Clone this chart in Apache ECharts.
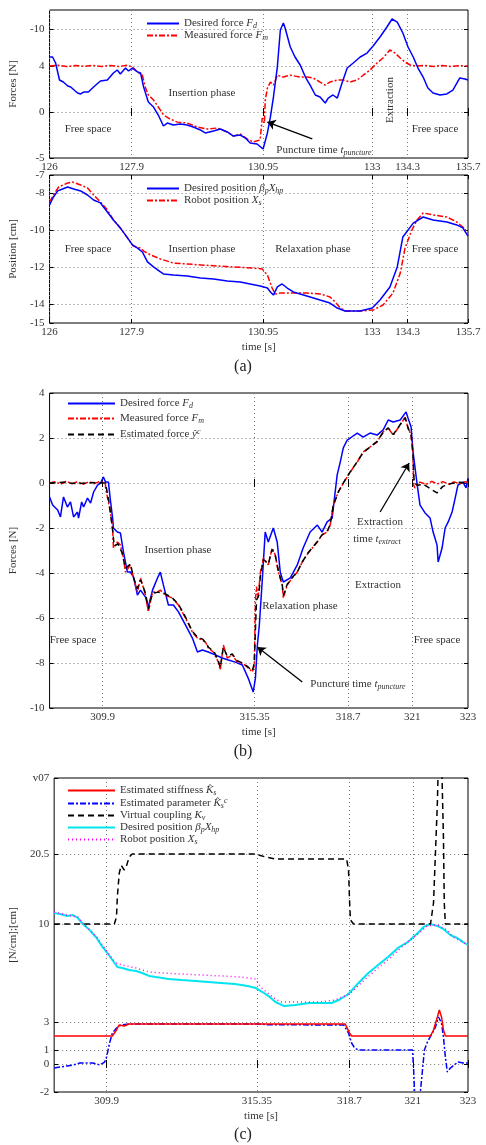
<!DOCTYPE html>
<html>
<head>
<meta charset="utf-8">
<script src="https://cdn.jsdelivr.net/npm/echarts@6/dist/echarts.min.js"></script>
<style>
html,body{margin:0;padding:0;background:#fff;}
#chart{width:486px;height:1145px;}
</style>
</head>
<body>
<div id="chart"></div>
<script>
// (a) top: forces, time axis 126..135.7 (tick "133" sits where the plot puts it)
var xTicksA = [126, 127.9, 130.95, 133.48, 134.3, 135.7];
var xLabelsA = ['126', '127.9', '130.95', '133', '134.3', '135.7'];
var yTicksA1 = [-5, 0, 5, 9];
var yLabelsA1 = ['-5', '0', '4', '-10'];
var yTicksA2 = [-15, -14, -12, -10, -8, -7];
var yLabelsA2 = ['-15', '-14', '-12', '-10', '-8', '-7'];

var desiredForceA = [[126.00,5.98],[126.07,5.98],[126.14,5.33],[126.23,3.48],[126.32,3.26],[126.42,2.83],[126.49,2.72],[126.65,2.07],[126.72,1.96],[126.79,2.17],[126.90,2.17],[127.02,2.72],[127.18,3.37],[127.34,3.48],[127.48,4.24],[127.57,4.57],[127.64,4.13],[127.76,4.78],[127.83,4.46],[127.92,4.78],[128.04,4.35],[128.11,4.24],[128.18,2.72],[128.29,1.09],[128.41,0.54],[128.52,-0.33],[128.64,-1.52],[128.73,-1.20],[128.87,-1.41],[129.03,-1.30],[129.19,-1.41],[129.33,-1.63],[129.50,-1.96],[129.61,-2.28],[129.80,-2.07],[129.96,-1.85],[130.12,-2.17],[130.26,-2.61],[130.42,-2.50],[130.54,-2.83],[130.65,-3.37],[130.81,-3.48],[130.95,-4.02],[131.05,-2.28],[131.12,-0.54],[131.19,1.63],[131.28,4.89],[131.35,8.91],[131.42,9.67],[131.46,9.13],[131.58,7.07],[131.69,5.98],[131.81,5.11],[131.93,3.80],[132.04,2.93],[132.16,1.85],[132.27,1.63],[132.39,0.98],[132.46,1.52],[132.57,1.85],[132.67,1.52],[132.78,3.15],[132.90,4.78],[133.04,5.33],[133.20,5.98],[133.36,6.41],[133.50,7.17],[133.66,8.15],[133.82,9.24],[133.94,10.11],[134.06,9.78],[134.19,8.59],[134.31,7.07],[134.43,5.98],[134.54,4.78],[134.66,3.80],[134.77,2.61],[134.89,2.07],[135.05,1.85],[135.21,1.96],[135.35,2.39],[135.51,3.70],[135.63,3.59],[135.70,3.48]];
var measuredForceA = [[126.00,5.0],[126.2,5.08],[126.4,4.95],[126.6,5.06],[126.8,4.97],[127.0,5.07],[127.2,4.96],[127.4,5.05],[127.6,4.95],[127.8,5.08],[127.92,4.9],[128.04,4.35],[128.15,4.0],[128.22,2.7],[128.29,1.85],[128.41,1.3],[128.57,0.2],[128.64,-0.3],[128.75,-0.65],[128.96,-1.1],[129.19,-1.2],[129.43,-1.63],[129.66,-1.85],[129.89,-1.74],[130.12,-2.17],[130.26,-2.6],[130.42,-2.4],[130.58,-2.93],[130.72,-3.26],[130.88,-3.04],[130.93,-0.65],[130.98,-1.2],[131.00,1.3],[131.05,2.6],[131.12,3.26],[131.19,2.93],[131.28,4.0],[131.42,3.8],[131.58,4.0],[131.81,3.8],[131.97,3.8],[132.11,3.7],[132.27,3.26],[132.39,2.93],[132.50,3.26],[132.67,3.48],[132.81,3.48],[132.97,3.26],[133.13,3.48],[133.27,4.0],[133.43,4.57],[133.59,5.33],[133.73,5.87],[133.89,6.74],[134.01,6.41],[134.13,5.87],[134.24,5.43],[134.36,5.11],[134.52,5.0],[134.7,5.06],[134.9,4.96],[135.1,5.05],[135.3,4.95],[135.5,5.04],[135.7,5.0]];

var desiredPosA = [[126.00,-8.62],[126.09,-8.19],[126.19,-7.86],[126.30,-7.76],[126.42,-7.65],[126.56,-7.76],[126.72,-7.86],[126.88,-8.08],[127.02,-8.35],[127.18,-8.51],[127.34,-9.0],[127.48,-9.43],[127.64,-9.86],[127.81,-10.41],[127.92,-10.78],[128.04,-10.95],[128.15,-11.16],[128.27,-11.7],[128.41,-11.97],[128.57,-12.24],[128.64,-12.35],[128.87,-12.41],[129.19,-12.46],[129.50,-12.57],[129.80,-12.62],[130.12,-12.73],[130.42,-12.78],[130.65,-12.89],[130.88,-13.0],[131.05,-13.11],[131.12,-13.32],[131.19,-13.49],[131.28,-13.05],[131.39,-12.89],[131.51,-13.11],[131.65,-13.32],[131.81,-13.43],[132.04,-13.59],[132.27,-13.76],[132.50,-13.92],[132.67,-14.19],[132.85,-14.35],[133.20,-14.35],[133.48,-14.19],[133.66,-13.76],[133.89,-13.05],[134.06,-11.97],[134.19,-10.35],[134.43,-9.6],[134.66,-9.27],[134.89,-9.43],[135.21,-9.54],[135.44,-9.7],[135.58,-9.86],[135.70,-10.3]];
var robotPosA = [[126.00,-8.46],[126.09,-8.08],[126.21,-7.65],[126.42,-7.43],[126.53,-7.38],[126.72,-7.54],[126.88,-7.7],[127.02,-8.08],[127.18,-8.46],[127.34,-8.89],[127.48,-9.43],[127.64,-9.86],[127.81,-10.41],[127.94,-10.84],[128.11,-10.95],[128.18,-11.11],[128.34,-11.32],[128.57,-11.54],[128.87,-11.76],[129.19,-11.81],[129.50,-11.86],[129.89,-11.92],[130.26,-11.97],[130.72,-12.03],[130.93,-12.08],[131.05,-12.41],[131.16,-13.11],[131.23,-13.43],[131.35,-13.38],[131.58,-13.38],[131.97,-13.38],[132.27,-13.43],[132.50,-13.59],[132.62,-13.86],[132.74,-14.19],[132.85,-14.35],[133.20,-14.35],[133.50,-14.3],[133.73,-14.03],[133.96,-13.38],[134.13,-12.3],[134.24,-10.95],[134.40,-9.97],[134.52,-9.43],[134.66,-9.05],[134.89,-9.16],[135.21,-9.27],[135.44,-9.54],[135.58,-9.81],[135.70,-10.14]];

// (b) and (c): time axis 308..323
var xTicksB = [309.9, 315.35, 318.7, 321, 323];
var xLabelsB = ['309.9', '315.35', '318.7', '321', '323'];
var yTicksB = [-10, -8, -6, -4, -2, 0, 2, 4];
var yLabelsB = ['-10', '-8', '-6', '-4', '-2', '0', '2', '4'];

var desiredForceB = [[308.00,-0.62],[308.11,-0.98],[308.29,-1.2],[308.39,-1.51],[308.50,-0.62],[308.64,-1.07],[308.75,-0.84],[308.86,-1.51],[309.00,-1.29],[309.04,-1.56],[309.15,-0.84],[309.22,-1.07],[309.36,-0.67],[309.47,-0.89],[309.58,-0.4],[309.72,-0.09],[309.83,0.0],[309.93,0.27],[310.01,0.04],[310.11,0.04],[310.18,-0.76],[310.26,-1.56],[310.29,-2.0],[310.43,-2.18],[310.54,-2.22],[310.65,-3.07],[310.79,-3.96],[310.90,-3.96],[311.01,-4.18],[311.15,-4.98],[311.26,-4.76],[311.44,-5.07],[311.54,-5.51],[311.69,-4.76],[311.87,-4.22],[311.97,-3.96],[312.08,-4.53],[312.26,-5.42],[312.44,-5.42],[312.62,-5.73],[312.87,-6.31],[313.12,-6.89],[313.30,-7.51],[313.48,-7.42],[313.69,-7.51],[313.94,-7.64],[314.19,-7.78],[314.41,-7.87],[314.66,-7.96],[314.91,-8.09],[315.12,-8.67],[315.30,-9.29],[315.38,-8.67],[315.45,-7.2],[315.52,-6.31],[315.63,-4.22],[315.73,-2.18],[315.84,-2.62],[316.02,-2.0],[316.16,-2.62],[316.27,-3.96],[316.38,-4.4],[316.63,-4.22],[316.88,-3.64],[317.09,-2.89],[317.34,-2.18],[317.60,-1.87],[317.77,-2.18],[317.95,-1.73],[318.13,-1.56],[318.31,0.36],[318.42,0.93],[318.53,1.56],[318.67,1.91],[318.78,2.0],[319.03,2.22],[319.24,2.04],[319.49,2.22],[319.74,2.13],[319.96,2.36],[320.14,2.8],[320.32,2.71],[320.57,2.8],[320.78,3.16],[320.85,2.89],[320.96,2.49],[321.03,1.38],[321.18,-0.09],[321.28,-0.98],[321.46,-1.33],[321.64,-1.56],[321.75,-2.18],[321.89,-2.76],[321.93,-3.51],[322.07,-2.89],[322.18,-2.0],[322.29,-1.73],[322.43,-1.29],[322.54,-0.67],[322.64,-0.09],[322.82,0.04],[322.93,-0.22],[323.00,0.22]];
var measuredForceB = [[308.0,0.0],[308.2,0.06],[308.4,-0.05],[308.6,0.08],[308.8,-0.04],[309.0,0.06],[309.2,-0.06],[309.4,0.05],[309.6,-0.03],[309.8,0.07],[310.0,0.0],[310.01,-0.22],[310.08,-0.67],[310.18,-1.29],[310.26,-2.0],[310.29,-2.89],[310.43,-2.62],[310.54,-2.76],[310.65,-3.33],[310.72,-3.96],[310.90,-3.64],[311.01,-4.22],[311.15,-4.84],[311.26,-4.22],[311.44,-4.98],[311.54,-5.73],[311.69,-4.84],[311.87,-4.84],[311.97,-4.76],[312.15,-4.98],[312.40,-5.11],[312.62,-5.42],[312.87,-6.0],[313.12,-6.62],[313.30,-6.89],[313.48,-6.98],[313.59,-7.07],[313.69,-7.33],[313.87,-7.51],[314.05,-7.96],[314.12,-8.31],[314.23,-7.2],[314.37,-7.78],[314.55,-7.64],[314.73,-7.96],[314.91,-8.0],[315.09,-8.18],[315.27,-8.4],[315.34,-8.1],[315.38,-5.2],[315.42,-4.6],[315.47,-5.1],[315.56,-3.96],[315.67,-3.33],[315.84,-3.64],[315.98,-2.89],[316.09,-3.2],[316.20,-3.96],[316.34,-4.53],[316.38,-5.11],[316.52,-4.53],[316.70,-4.22],[316.88,-3.96],[317.06,-3.51],[317.27,-3.11],[317.60,-2.62],[317.77,-2.31],[317.95,-2.18],[318.06,-1.87],[318.17,-0.98],[318.35,-0.4],[318.60,0.13],[318.78,0.49],[319.03,0.93],[319.24,1.38],[319.49,1.6],[319.74,1.82],[319.96,2.27],[320.14,2.44],[320.32,2.13],[320.57,2.58],[320.75,2.93],[320.85,2.44],[320.96,2.13],[321.03,1.38],[321.05,-0.09],[321.10,-0.22],[321.28,0.04],[321.5,-0.06],[321.7,0.07],[321.9,-0.04],[322.1,0.06],[322.3,-0.05],[322.5,0.05],[322.7,-0.03],[322.9,0.06],[323.0,0.0]];
var estimatedForceB = [[308,0],[308.5,0.03],[309,-0.03],[309.5,0.02],[310.0,0.0],[310.05,-0.3],[310.15,-1.0],[310.26,-2.1],[310.32,-2.8],[310.45,-2.7],[310.6,-3.1],[310.72,-3.8],[310.9,-3.6],[311.01,-4.2],[311.15,-4.7],[311.26,-4.3],[311.44,-4.9],[311.54,-5.6],[311.69,-4.9],[311.9,-4.85],[312.1,-4.9],[312.4,-5.1],[312.62,-5.4],[312.87,-5.95],[313.12,-6.6],[313.3,-6.85],[313.5,-6.95],[313.7,-7.3],[313.9,-7.5],[314.05,-7.9],[314.12,-8.2],[314.23,-7.3],[314.37,-7.7],[314.55,-7.6],[314.73,-7.9],[314.91,-8.0],[315.09,-8.15],[315.27,-8.35],[315.34,-8.0],[315.38,-6.5],[315.42,-5.2],[315.5,-5.0],[315.56,-4.1],[315.67,-3.4],[315.84,-3.6],[315.98,-2.95],[316.09,-3.2],[316.2,-3.9],[316.34,-4.5],[316.38,-5.0],[316.52,-4.5],[316.7,-4.2],[316.88,-3.95],[317.06,-3.5],[317.27,-3.1],[317.6,-2.6],[317.77,-2.3],[317.95,-2.15],[318.06,-1.85],[318.17,-1.0],[318.35,-0.4],[318.6,0.15],[318.78,0.5],[319.03,0.95],[319.24,1.35],[319.49,1.6],[319.74,1.85],[319.96,2.25],[320.14,2.45],[320.32,2.15],[320.57,2.6],[320.75,2.9],[320.85,2.45],[320.96,2.15],[321.03,1.2],[321.07,0.0],[321.2,-0.1],[321.4,-0.05],[321.7,-0.3],[321.89,-0.44],[322.1,-0.15],[322.4,-0.02],[322.7,0.03],[323,0]];

// (c) y axis is stretched above 10: "20.5" and "v07" sit at 15 and 20.43 here
var yTicksC = [-2, 0, 1, 3, 10, 15, 20.43];
var yLabelsC = ['-2', '0', '1', '3', '10', '20.5', 'v07'];
var stiffness = [[308,2.0],[310.11,2.0],[310.26,2.43],[310.36,2.79],[310.54,2.71],[310.72,2.86],[315.35,2.86],[318.55,2.86],[318.71,2.21],[318.78,2.0],[321.64,2.0],[321.75,2.43],[321.89,3.36],[321.96,3.86],[322.04,3.36],[322.11,2.43],[322.18,2.0],[323,2.0]];
var paramKc = [[308,-0.29],[308.21,-0.21],[308.47,-0.14],[308.68,-0.07],[308.93,0.07],[309.18,0.07],[309.40,0.07],[309.65,-0.07],[309.83,0.14],[309.90,0.5],[310.01,1.5],[310.11,2.21],[310.26,2.57],[310.43,2.79],[310.72,2.86],[315.35,2.86],[315.8,2.8],[318.50,2.79],[318.67,2.21],[318.78,1.5],[318.89,1.14],[319.03,1.0],[320.99,1.0],[321.03,-0.43],[321.06,-1.86],[321.12,-2.6],[321.22,-2.6],[321.28,-1.86],[321.35,-0.43],[321.42,1.0],[321.53,1.57],[321.71,2.21],[321.82,2.64],[321.93,3.36],[322.04,2.93],[322.11,1.93],[322.18,0.5],[322.25,-0.57],[322.36,-0.29],[322.50,-0.07],[322.64,0.14],[322.82,0.07],[323,0.07]];
var couplingKv = [[308,10],[310.18,10],[310.26,10.5],[310.29,11.93],[310.36,13.64],[310.43,14.2],[310.54,13.86],[310.61,14.07],[310.72,14.79],[310.83,15.0],[315.30,15.0],[315.66,14.79],[316.02,14.64],[318.60,14.64],[318.67,13.86],[318.71,11.5],[318.74,10.29],[318.85,10.0],[321.64,10.0],[321.75,11.5],[321.82,15.07],[321.89,18.64],[321.93,22],[322.04,22],[322.11,16.21],[322.14,11.5],[322.18,10.0],[323,10]];
var desiredPosC = [[308,10.79],[308.21,10.71],[308.47,10.57],[308.68,10.64],[308.86,10.43],[309.04,10.0],[309.29,9.57],[309.54,9.0],[309.75,8.36],[309.93,7.93],[310.11,7.43],[310.29,6.93],[310.47,6.86],[310.72,6.71],[310.97,6.64],[311.19,6.5],[311.44,6.29],[311.69,6.21],[312.15,6.07],[312.62,6.0],[313.12,5.93],[313.59,5.86],[314.05,5.79],[314.55,5.71],[315.02,5.57],[315.30,5.43],[315.55,5.14],[315.81,4.79],[316.02,4.43],[316.34,4.14],[316.74,4.21],[317.24,4.36],[317.70,4.36],[318.06,4.36],[318.31,4.57],[318.67,5.0],[319.03,5.79],[319.39,6.5],[319.74,7.07],[320.10,7.64],[320.46,8.29],[320.82,8.71],[321.18,9.36],[321.39,9.79],[321.64,10.0],[321.89,9.86],[322.11,9.64],[322.36,9.21],[322.61,9.0],[322.82,8.71],[323,8.5]];
var robotPosC = [[308,10.86],[308.47,10.64],[308.86,10.5],[309.04,10.07],[309.54,9.07],[309.93,8.0],[310.11,7.5],[310.26,7.21],[310.47,7.07],[310.97,6.86],[311.44,6.57],[311.90,6.5],[312.62,6.43],[313.33,6.36],[314.05,6.29],[314.77,6.21],[315.30,6.07],[315.48,5.5],[315.55,5.43],[315.91,4.79],[316.20,4.43],[316.74,4.43],[317.60,4.43],[318.17,4.57],[318.53,4.86],[318.78,5.14],[319.24,6.0],[319.74,6.86],[320.21,7.64],[320.67,8.5],[321.18,9.29],[321.53,9.86],[321.89,9.93],[322.25,9.57],[322.46,9.07],[322.82,8.71],[323,8.5]];

var serif = '"Liberation Serif","DejaVu Serif",serif';
var txt = '#333';

function pick(ticks, labels) {
    return function (v) {
        var k = 0;
        for (var i = 1; i < ticks.length; i++) {
            if (Math.abs(ticks[i] - v) < Math.abs(ticks[k] - v)) k = i;
        }
        return labels[k];
    };
}

function xAx(g, min, max, ticks, labels, name, top) {
    return {
        type: 'value', gridIndex: g, min: min, max: max, position: top ? 'top' : 'bottom',
        name: name, nameLocation: 'middle', nameGap: 19,
        nameTextStyle: { fontFamily: serif, fontSize: 11, color: txt },
        axisLine: { show: false },
        axisTick: { inside: true, length: 4, customValues: ticks, lineStyle: { color: '#000' } },
        axisLabel: { show: !top, customValues: ticks, formatter: pick(ticks, labels), color: txt, fontFamily: serif, fontSize: 11, margin: 4 },
        splitLine: { show: !top, lineStyle: { type: [1, 3], color: '#777' } }
    };
}

function yAx(g, min, max, ticks, labels, name, right) {
    return {
        type: 'value', gridIndex: g, min: min, max: max, position: right ? 'right' : 'left',
        name: name, nameLocation: 'middle', nameGap: 27,
        nameTextStyle: { fontFamily: serif, fontSize: 11, color: txt },
        axisLine: { show: false },
        axisTick: { inside: true, length: 4, customValues: ticks, lineStyle: { color: '#000' } },
        axisLabel: { show: !right, customValues: ticks, formatter: pick(ticks, labels), color: txt, fontFamily: serif, fontSize: 11, margin: 5 },
        splitLine: { show: !right, lineStyle: { type: [1, 3], color: '#777' } }
    };
}

var names = {
    fdA: 'Desired force {i|F}{s|d}',
    fmA: 'Measured force {i|F}{s|m}',
    xdA: 'Desired position {i|β}{s|p}{i|X}{s|hp}',
    xsA: 'Robot position {i|X}{s|s}',
    fdB: 'Desired force {i|F}{s|d}',
    fmB: 'Measured force {i|F}{s|m}',
    feB: 'Estimated force {i|ŷ}{u|c}',
    ks: 'Estimated stiffness {i|K̂}{s|s}',
    kc: 'Estimated parameter {i|K̂}{s|s}{u|c}',
    kv: 'Virtual coupling {i|K}{s|v}',
    xd: 'Desired position {i|β}{s|p}{i|X}{s|hp}',
    xs: 'Robot position {i|X}{s|s}'
};
var rich = {
    i: { fontFamily: serif, fontSize: 11, fontStyle: 'italic', color: txt },
    s: { fontFamily: serif, fontSize: 8, fontStyle: 'italic', color: txt, padding: [5, 0, 0, 0] },
    u: { fontFamily: serif, fontSize: 8, fontStyle: 'italic', color: txt, padding: [0, 0, 5, 0] }
};

function leg(left, top, gap, w, data) {
    return {
        left: left, top: top, orient: 'vertical', itemWidth: w, itemHeight: 10, itemGap: gap,
        data: data, selectedMode: false,
        itemStyle: { opacity: 0 },
        formatter: function (n) { return names[n]; },
        textStyle: { fontFamily: serif, fontSize: 11, color: txt, rich: rich }
    };
}

function line(name, xi, yi, data, color, width, type) {
    return {
        name: name, type: 'line', xAxisIndex: xi, yAxisIndex: yi, data: data,
        showSymbol: false, symbol: 'none', animation: false,
        lineStyle: { color: color, width: width, type: type },
        itemStyle: { color: color }
    };
}

function arrow(from, to) {
    return {
        silent: true, symbol: ['none', 'arrow'], symbolSize: 8, animation: false,
        label: { show: false },
        lineStyle: { color: '#000', width: 1.3, type: 'solid' },
        data: [[{ coord: from }, { coord: to }]]
    };
}

function label(x, y, text, size) {
    return {
        type: 'text', x: x, y: y, silent: true,
        style: { text: text, fontFamily: serif, fontSize: size || 11, fill: size ? '#222' : txt, align: 'center', verticalAlign: 'middle', rich: rich }
    };
}

var dashDot = [6, 2, 2, 2];

var s1 = line('fdA', 0, 0, desiredForceA, '#0000ff', 1.5, 'solid');
var s2 = line('fmA', 0, 0, measuredForceA, '#ff0000', 1.5, dashDot);
s2.markLine = arrow([132.09, -2.93], [131.05, -1.09]);
var s4 = line('fdB', 2, 2, desiredForceB, '#0000ff', 1.5, 'solid');
s4.markLine = arrow([319.85, -1.29], [320.89, 0.89]);
var s5 = line('fmB', 2, 2, measuredForceB, '#ff0000', 1.5, dashDot);
var s6 = line('feB', 2, 2, estimatedForceB, '#000000', 1.5, [6, 4]);
s6.markLine = arrow([317.06, -8.84], [315.45, -7.29]);

var extraction = label(390, 100, 'Extraction');
extraction.rotation = Math.PI / 2;

var chart = echarts.init(document.getElementById('chart'));
var option = {
    backgroundColor: '#fff',
    animation: false,
    grid: [
        { left: 49, right: 18, top: 10, height: 148, show: true, borderColor: '#000', borderWidth: 1 },
        { left: 49, right: 18, top: 175, height: 148, show: true, borderColor: '#000', borderWidth: 1 },
        { left: 49, right: 18, top: 393, height: 315, show: true, borderColor: '#000', borderWidth: 1 },
        { left: 49, right: 18, top: 778, height: 314, show: true, borderColor: '#000', borderWidth: 1 }
    ],
    xAxis: [
        xAx(0, 126, 135.7, xTicksA, xLabelsA, '', false),
        xAx(1, 126, 135.7, xTicksA, xLabelsA, 'time [s]', false),
        xAx(2, 308, 323, xTicksB, xLabelsB, 'time [s]', false),
        xAx(3, 308, 323, xTicksB, xLabelsB, 'time [s]', false),
        xAx(0, 126, 135.7, xTicksA, xLabelsA, '', true),
        xAx(1, 126, 135.7, xTicksA, xLabelsA, '', true),
        xAx(2, 308, 323, xTicksB, xLabelsB, '', true),
        xAx(3, 308, 323, xTicksB, xLabelsB, '', true)
    ],
    yAxis: [
        yAx(0, -5, 11.09, yTicksA1, yLabelsA1, 'Forces [N]', false),
        yAx(1, -15, -7, yTicksA2, yLabelsA2, 'Position [cm]', false),
        yAx(2, -10, 4, yTicksB, yLabelsB, 'Forces [N]', false),
        yAx(3, -2, 20.43, yTicksC, yLabelsC, '[N/cm];[cm]', false),
        yAx(0, -5, 11.09, yTicksA1, yLabelsA1, '', true),
        yAx(1, -15, -7, yTicksA2, yLabelsA2, '', true),
        yAx(2, -10, 4, yTicksB, yLabelsB, '', true),
        yAx(3, -2, 20.43, yTicksC, yLabelsC, '', true)
    ],
    legend: [
        leg(141, 13, 0, 32, ['fdA', 'fmA']),
        leg(141, 178, 0, 32, ['xdA', 'xsA']),
        leg(62, 393, 3, 47, ['fdB', 'fmB', 'feB']),
        leg(62, 780, 0, 47, ['ks', 'kc', 'kv', 'xd', 'xs'])
    ],
    series: [
        s2, s1,
        line('xsA', 1, 1, robotPosA, '#ff0000', 1.5, dashDot),
        line('xdA', 1, 1, desiredPosA, '#0000ff', 1.5, 'solid'),
        s4, s5, s6,
        line('xd', 3, 3, desiredPosC, '#00e5ee', 2, 'solid'),
        line('xs', 3, 3, robotPosC, '#ff00ff', 1.5, [1, 3]),
        line('kv', 3, 3, couplingKv, '#000000', 1.5, [6, 4]),
        line('kc', 3, 3, paramKc, '#0000ff', 1.5, dashDot),
        line('ks', 3, 3, stiffness, '#ff0000', 1.5, 'solid')
    ],
    graphic: [
        label(88, 129, 'Free space'),
        label(202, 93, 'Insertion phase'),
        extraction,
        label(435, 129, 'Free space'),
        label(324, 150, 'Puncture time {i|t}{s|puncture}'),
        label(88, 249, 'Free space'),
        label(202, 249, 'Insertion phase'),
        label(313, 249, 'Relaxation phase'),
        label(435, 249, 'Free space'),
        label(243, 367, '(a)', 16),
        label(178, 550, 'Insertion phase'),
        label(73, 640, 'Free space'),
        label(380, 522, 'Extraction'),
        label(377, 539, 'time {i|t}{s|extract}'),
        label(378, 585, 'Extraction'),
        label(300, 606, 'Relaxation phase'),
        label(437, 640, 'Free space'),
        label(358, 684, 'Puncture time {i|t}{s|puncture}'),
        label(243, 752, '(b)', 16),
        label(243, 1135, '(c)', 16)
    ]
};
option && chart.setOption(option);
</script>
</body>
</html>
